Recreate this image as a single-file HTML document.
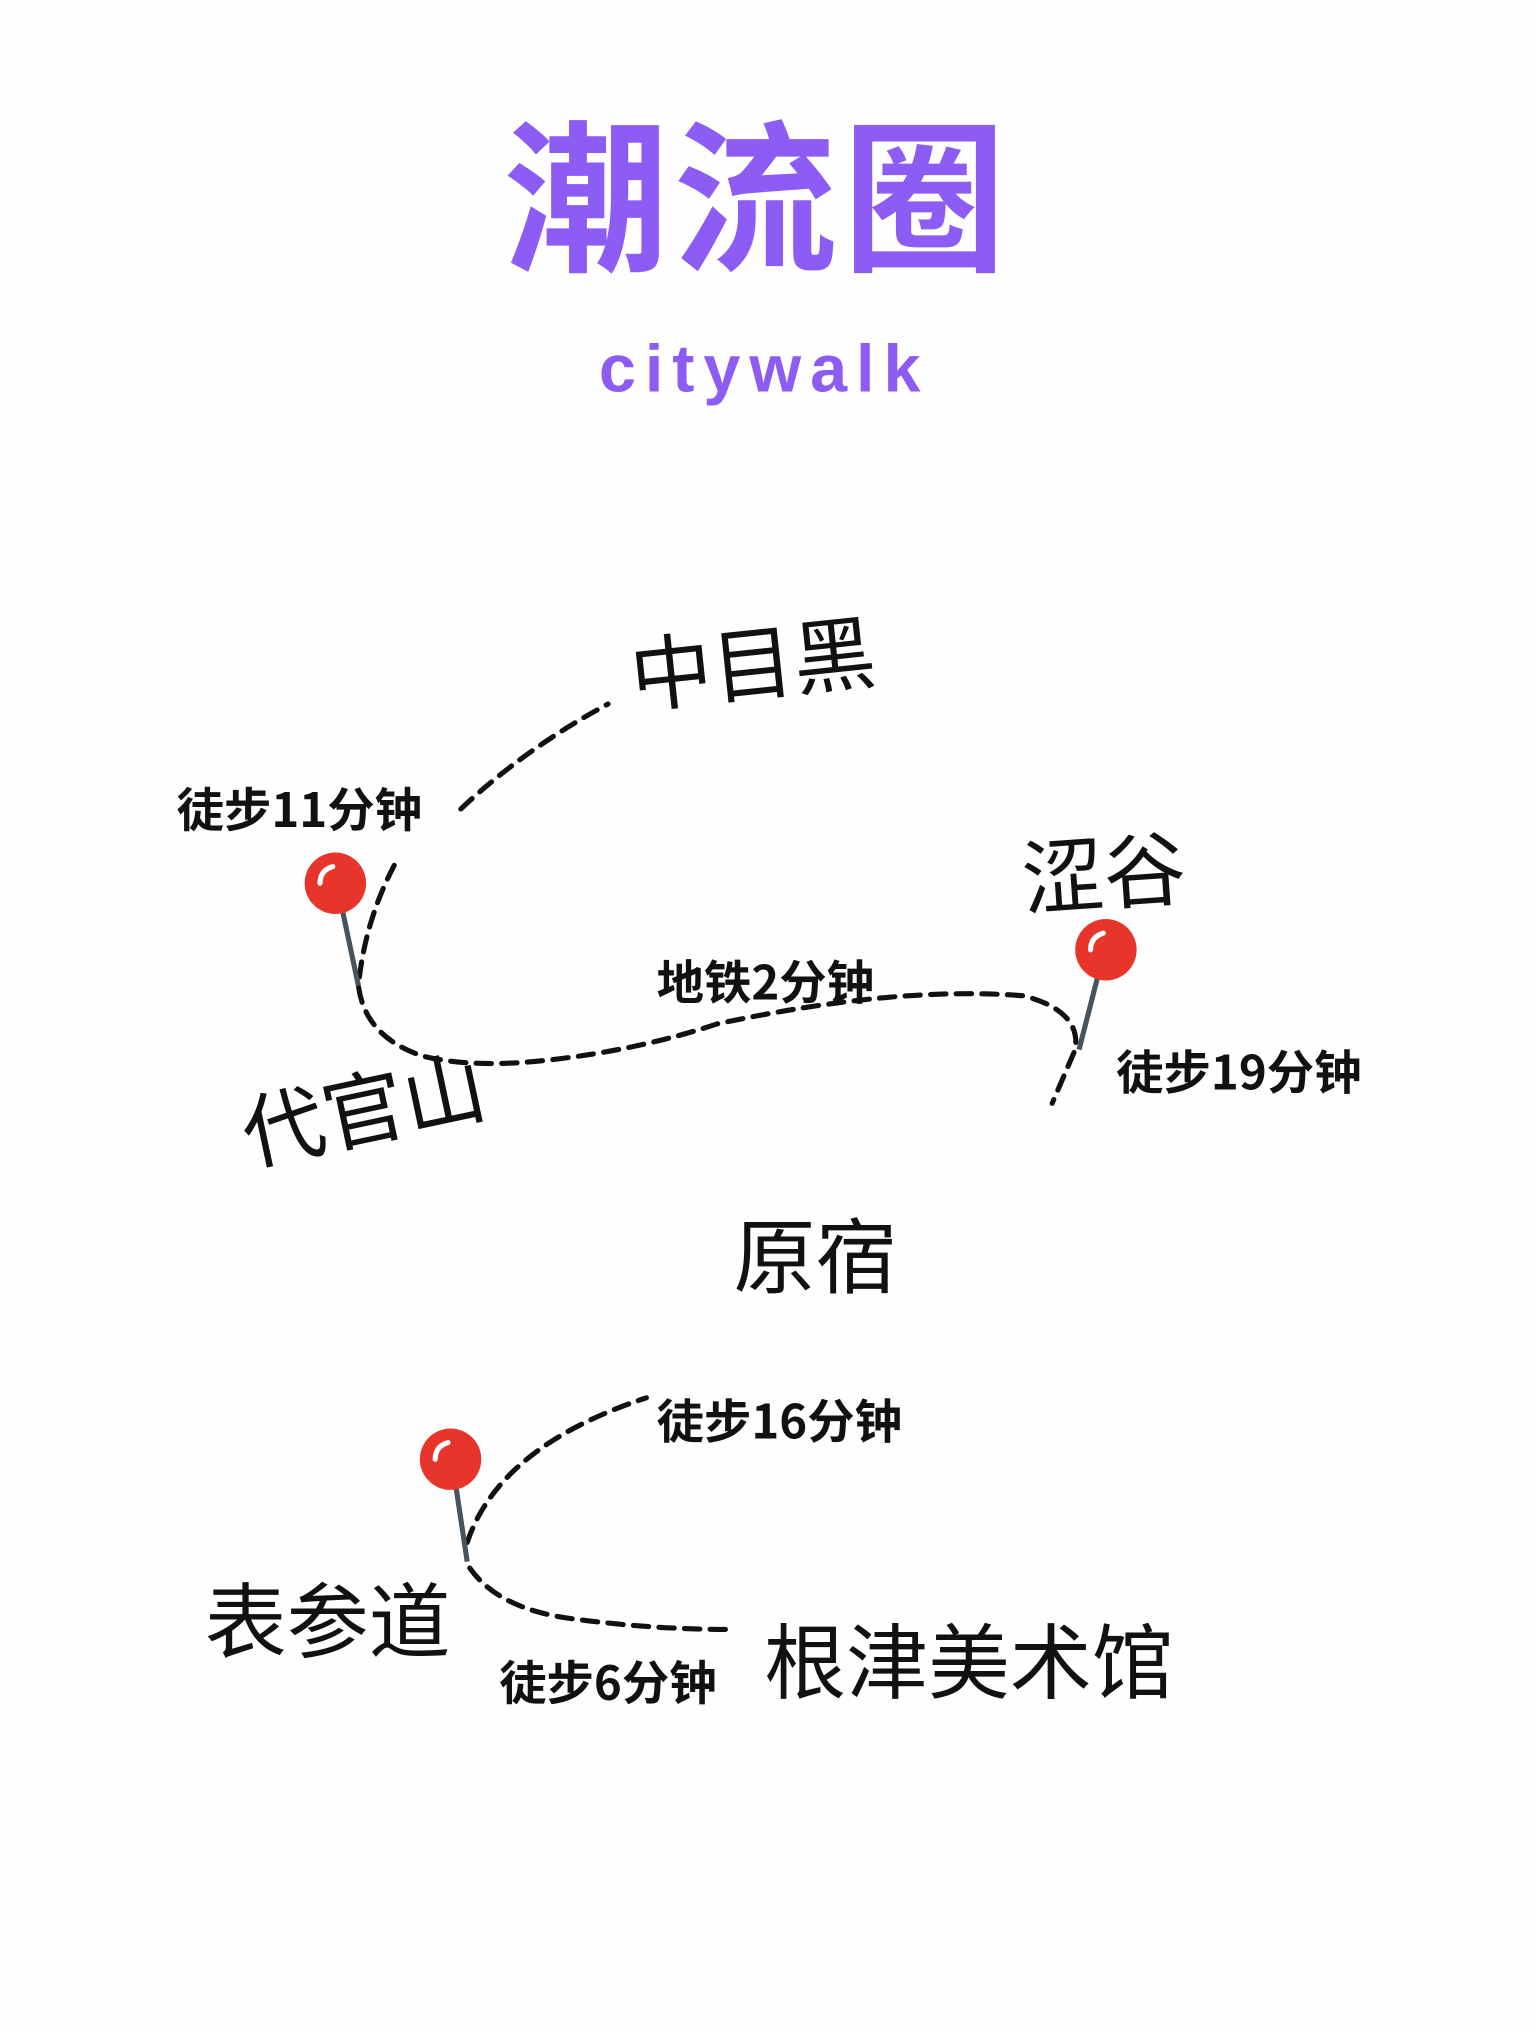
<!DOCTYPE html>
<html><head><meta charset="utf-8"><style>
html,body{margin:0;padding:0;background:#fff;}
svg{display:block;}
text{font-family:"Liberation Sans","Noto Sans CJK SC",sans-serif;}
.lbl{font-weight:bold;font-size:37px;fill:#111;font-family:"Noto Sans CJK SC",sans-serif;}
.place{font-size:64px;fill:#111;font-weight:400;font-family:"Noto Sans CJK SC",sans-serif;}
.d{fill:none;stroke:#111;stroke-width:4;stroke-dasharray:12 8;stroke-linecap:round;}
</style></head><body>
<svg width="1536" height="2032" viewBox="0 0 1200 1587.5" xmlns="http://www.w3.org/2000/svg">
<rect width="1200" height="1588" fill="#fefefe"/>
<text x="592" y="202" text-anchor="middle" font-size="128" font-weight="bold" fill="#8c5cf5" style="font-family:'Noto Sans CJK SC',sans-serif" letter-spacing="4">潮流圈</text>
<text x="597" y="306" text-anchor="middle" font-size="52" font-weight="bold" fill="#8c5cf5" letter-spacing="7">citywalk</text>

<text class="place" x="495" y="552" font-size="70" transform="rotate(-6 495 552)">中目黑</text>
<text class="place" x="800" y="710" transform="rotate(-4 800 710)">涩谷</text>
<text class="place" x="195" y="910" transform="rotate(-12 195 910)">代官山</text>
<text class="place" x="573" y="1005">原宿</text>
<text class="place" x="160" y="1290">表参道</text>
<text class="place" x="597" y="1322" font-size="64">根津美术馆</text>

<text class="lbl" x="138" y="646">徒步11分钟</text>
<text class="lbl" x="513" y="781">地铁2分钟</text>
<text class="lbl" x="872" y="851">徒步19分钟</text>
<text class="lbl" x="513" y="1124">徒步16分钟</text>
<text class="lbl" x="390" y="1328">徒步6分钟</text>

<path class="d" d="M360 632 Q410 585 475 550"/>
<path class="d" d="M308 676 Q285 720 280 770 Q285 810 330 825 Q370 835 430 828 Q500 820 560 800 Q700 770 800 778 Q845 790 840 820 L822 862"/>
<path class="d" d="M365 1205 Q390 1130 505 1092"/>
<path class="d" d="M367 1225 Q390 1258 450 1265 Q510 1273 570 1273"/>

<g>
<line x1="263" y1="690" x2="280" y2="770" stroke="#47535d" stroke-width="4"/>
<circle cx="262" cy="690" r="24" fill="#e8352c"/>
<path d="M250 690 Q250 680 260 677" stroke="#fff" stroke-width="4" fill="none" stroke-linecap="round"/>
<line x1="863" y1="742" x2="843" y2="820" stroke="#47535d" stroke-width="4"/>
<circle cx="864" cy="742" r="24" fill="#e8352c"/>
<path d="M852 742 Q852 732 862 729" stroke="#fff" stroke-width="4" fill="none" stroke-linecap="round"/>
<line x1="353" y1="1140" x2="365" y2="1220" stroke="#47535d" stroke-width="4"/>
<circle cx="352" cy="1140" r="24" fill="#e8352c"/>
<path d="M340 1140 Q340 1130 350 1127" stroke="#fff" stroke-width="4" fill="none" stroke-linecap="round"/>
</g>
</svg>
</body></html>
